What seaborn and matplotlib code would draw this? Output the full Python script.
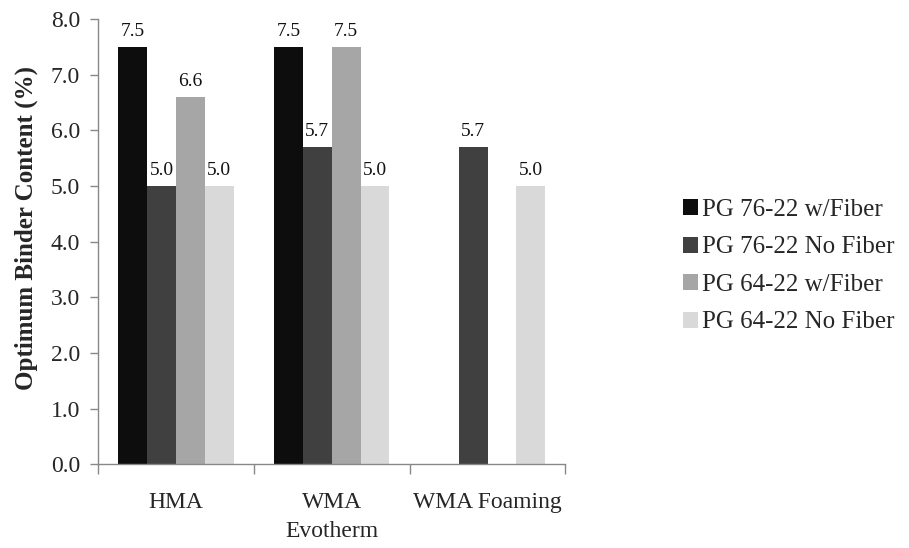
import numpy as np
import pandas as pd
import matplotlib
matplotlib.use("Agg")
import matplotlib.pyplot as plt
import seaborn as sns

categories = ["HMA", "WMA\nEvotherm", "WMA Foaming"]
series = ["PG 76-22 w/Fiber", "PG 76-22 No Fiber", "PG 64-22 w/Fiber", "PG 64-22 No Fiber"]
pg76_fiber = [7.5, 7.5, np.nan]
pg76_nofiber = [5.0, 5.7, 5.7]
pg64_fiber = [6.6, 7.5, np.nan]
pg64_nofiber = [5.0, 5.0, 5.0]
colors = ["#0d0d0d", "#404040", "#a6a6a6", "#d9d9d9"]

rows = []
for name, vals in zip(series, [pg76_fiber, pg76_nofiber, pg64_fiber, pg64_nofiber]):
    for cat, v in zip(categories, vals):
        rows.append({"Mix": cat, "Binder": name, "Content": v})
df = pd.DataFrame(rows)

sns.set_theme(style="white")
plt.rcParams["font.family"] = ["Liberation Serif", "DejaVu Serif"]

fig = plt.figure(figsize=(9.09, 5.48), dpi=100)
ax = fig.add_axes([0.108, 0.153, 0.514, 0.812])

sns.barplot(data=df, x="Mix", y="Content", hue="Binder", order=categories,
            hue_order=series, palette=colors, width=0.74, saturation=1,
            errorbar=None, ax=ax, edgecolor="none", linewidth=0)

for cont in ax.containers:
    labels = []
    for rect in cont:
        h = rect.get_height()
        labels.append("" if (np.isnan(h) or h == 0) else f"{h:.1f}")
    ax.bar_label(cont, labels=labels, padding=5, fontsize=14, color="#111111")

ax.set_ylim(0, 8)
ax.set_xlim(-0.5, 2.5)
ax.set_yticks(np.arange(0, 8.01, 1.0))
ax.set_yticklabels([f"{v:.1f}" for v in np.arange(0, 8.01, 1.0)], fontsize=17)
ax.set_ylabel("Optimum Binder Content (%)", fontsize=18, fontweight="bold")
ax.yaxis.set_label_coords(-0.128, 0.53)
ax.set_xlabel("")
ax.set_xticks([0, 1, 2])
ax.set_xticklabels(categories, fontsize=17, linespacing=1.5)
ax.tick_params(axis="x", which="major", length=0, pad=20)
ax.set_xticks([-0.5, 0.5, 1.5, 2.5], minor=True)
ax.tick_params(axis="x", which="minor", length=7, width=1, color="#888888", direction="out", bottom=True)
ax.tick_params(axis="y", length=6, width=1, color="#888888", direction="out", left=True, pad=7)

for s in ["top", "right"]:
    ax.spines[s].set_visible(False)
for s in ["left", "bottom"]:
    ax.spines[s].set_color("#888888")
    ax.spines[s].set_linewidth(1)

leg = ax.legend(loc="center left", bbox_to_anchor=(1.23, 0.445), frameon=False,
                fontsize=18, handlelength=0.6, handleheight=0.6, handletextpad=0.15,
                labelspacing=0.62, borderaxespad=0)

fig.savefig("out.png", dpi=100)
